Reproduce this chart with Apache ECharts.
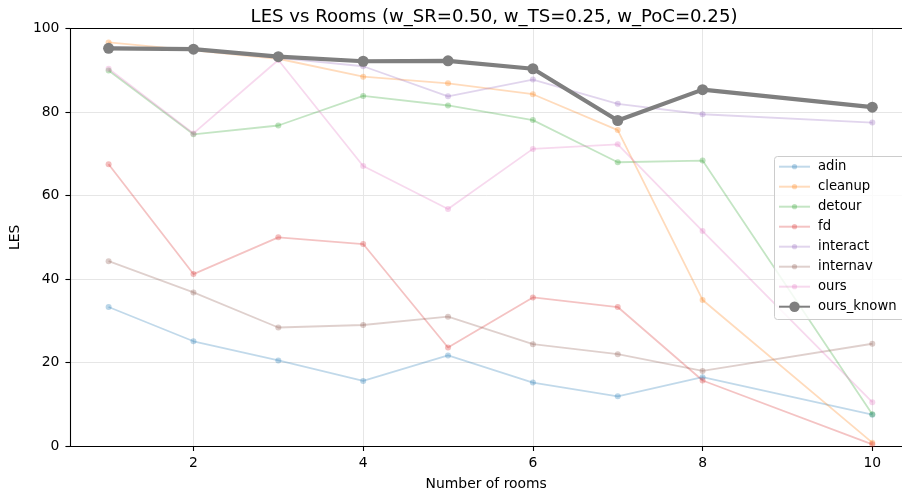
<!DOCTYPE html>
<html>
<head>
<meta charset="utf-8">
<script src="https://cdn.jsdelivr.net/npm/echarts@6/dist/echarts.min.js"></script>
<style>html,body{margin:0;padding:0;background:#fff;overflow:hidden;}#c{width:902px;height:496px;}</style>
</head>
<body>
<div id="c"></div>
<script>
const rooms = [1, 2, 3, 4, 5, 6, 7, 8, 10];
const seriesNames = ['adin', 'cleanup', 'detour', 'fd', 'interact', 'internav', 'ours', 'ours_known'];
const adin = [33.3, 25.1, 20.5, 15.6, 21.7, 15.2, 11.9, 16.5, 7.5];
const cleanup = [96.7, 94.8, 92.8, 88.5, 86.9, 84.3, 75.7, 35.0, 0.8];
const detour = [90.0, 74.7, 76.8, 83.9, 81.6, 78.1, 68.0, 68.4, 7.6];
const fd = [67.5, 41.2, 50.0, 48.4, 23.6, 35.6, 33.3, 15.7, 0.4];
const interact = [95.6, 95.0, 93.0, 91.0, 83.8, 87.8, 82.0, 79.5, 77.5];
const internav = [44.3, 36.8, 28.4, 29.0, 31.0, 24.4, 22.0, 18.0, 24.5];
const ours = [90.4, 74.9, 92.5, 67.1, 56.8, 71.2, 72.3, 51.5, 10.5];
const oursKnown = [95.3, 95.1, 93.3, 92.2, 92.3, 90.4, 78.0, 85.4, 81.2];
const xTicks = [2, 4, 6, 8, 10];

const values = [adin, cleanup, detour, fd, interact, internav, ours, oursKnown];
const colors = ['#1f77b4', '#ff7f0e', '#2ca02c', '#d62728', '#9467bd', '#8c564b', '#e377c2', '#7f7f7f'];
const font = 'DejaVu Sans';

const series = seriesNames.map((name, i) => {
  const known = name === 'ours_known';
  return {
    name: name,
    type: 'line',
    data: rooms.map((r, j) => [r, values[i][j]]),
    symbol: 'circle',
    symbolSize: known ? 11 : 6,
    showSymbol: true,
    lineStyle: { color: colors[i], width: known ? 4.2 : 1.8, opacity: known ? 1 : 0.28 },
    itemStyle: { color: colors[i], opacity: known ? 1 : 0.3 },
    emphasis: { disabled: true },
    animation: false,
    z: known ? 5 : 2
  };
});

const legendText = { fontFamily: font, fontSize: 13.2, color: '#000', lineHeight: 14, padding: [0, 0, 0, 3] };

const chart = echarts.init(document.getElementById('c'), null, { renderer: 'canvas' });
chart.setOption({
  backgroundColor: '#fff',
  animation: false,
  title: {
    text: 'LES vs Rooms (w_SR=0.50, w_TS=0.25, w_PoC=0.25)',
    left: 489, top: 3, textAlign: 'center',
    textStyle: { fontFamily: font, fontSize: 18.1, fontWeight: 'normal', color: '#000' }
  },
  grid: { left: 69, right: 0, top: 28.7, bottom: 49.5, show: false },
  graphic: [{
    type: 'rect', z: 10, silent: true,
    shape: { x: 774.5, y: 156.5, width: 140, height: 163, r: 3 },
    style: { fill: 'rgba(255,255,255,0.8)', stroke: '#cccccc', lineWidth: 1 }
  }],
  legend: [{
    orient: 'vertical', left: 778, top: 159.7, z: 20,
    data: seriesNames.slice(0, 7),
    itemWidth: 31, itemHeight: 6.5, itemGap: 6, padding: 0,
    textStyle: legendText
  }, {
    orient: 'vertical', left: 778, top: 299.7, z: 20,
    data: ['ours_known'],
    itemWidth: 31, itemHeight: 13, itemGap: 6, padding: 0,
    textStyle: legendText
  }],
  xAxis: [{
    type: 'value', min: 0.55, max: 10.35,
    name: 'Number of rooms', nameLocation: 'middle', nameGap: 31,
    nameTextStyle: { fontFamily: font, fontSize: 13.9, color: '#000' },
    axisLine: { show: true, lineStyle: { color: '#000', width: 1.1 } },
    axisTick: { show: true, customValues: xTicks, length: 5, lineStyle: { color: '#000', width: 1.1 } },
    axisLabel: { customValues: xTicks, fontFamily: font, fontSize: 13.9, color: '#000', margin: 10 },
    splitLine: { show: true, customValues: xTicks, lineStyle: { color: '#e6e6e6', width: 1 } }
  }, {
    type: 'value', min: 0.55, max: 10.35, position: 'top',
    axisLine: { show: true, onZero: false, lineStyle: { color: '#000', width: 1.1 } },
    axisTick: { show: false }, axisLabel: { show: false }, splitLine: { show: false }
  }],
  yAxis: {
    type: 'value', min: 0, max: 100, interval: 20,
    name: 'LES', nameLocation: 'middle', nameGap: 43,
    nameTextStyle: { fontFamily: font, fontSize: 13.9, color: '#000' },
    axisLine: { show: true, lineStyle: { color: '#000', width: 1.1 } },
    axisTick: { show: true, length: 5, lineStyle: { color: '#000', width: 1.1 } },
    axisLabel: { fontFamily: font, fontSize: 13.9, color: '#000', margin: 11 },
    splitLine: { show: true, lineStyle: { color: '#e6e6e6', width: 1 } }
  },
  series: series
});
</script>
</body>
</html>
